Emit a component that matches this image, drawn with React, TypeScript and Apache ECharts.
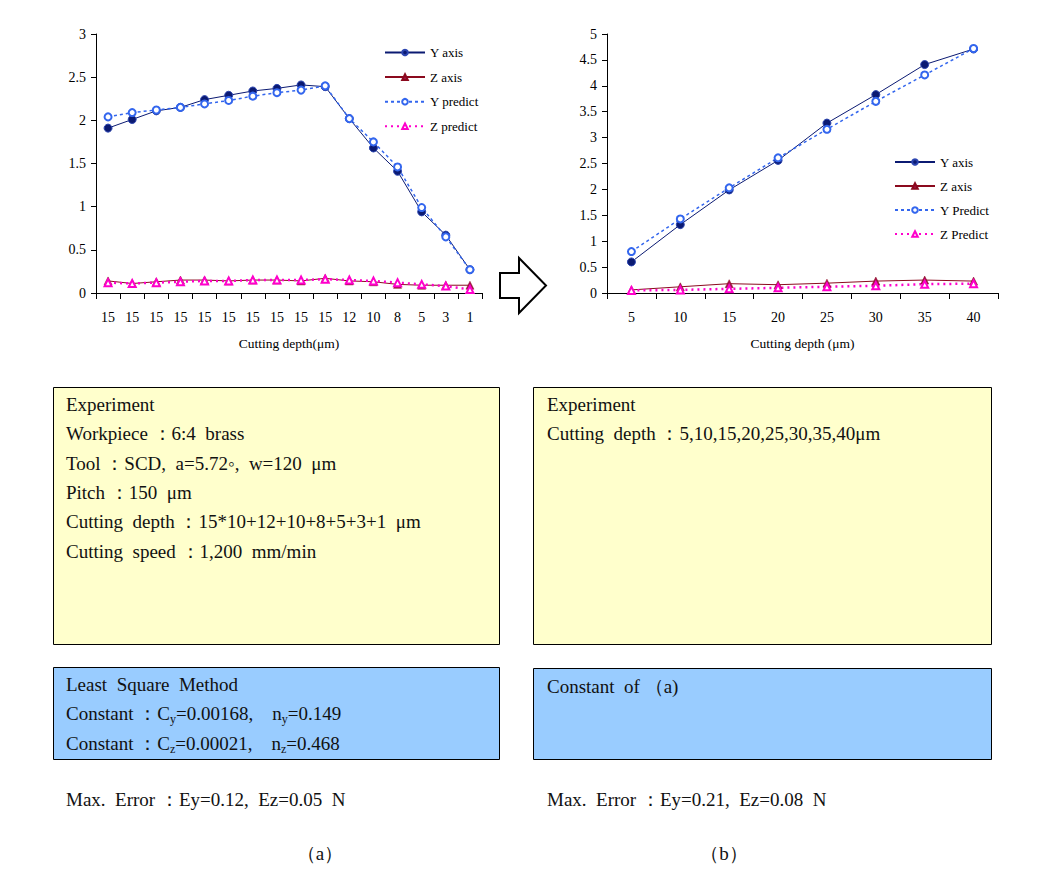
import React, { useEffect, useRef } from "react";
import * as echarts from "echarts";

// ---- data (a) ----
const leftCats = ["15", "15", "15", "15", "15", "15", "15", "15", "15", "15", "12", "10", "8", "5", "3", "1"];
const leftYAxis = [1.91, 2.01, 2.11, 2.15, 2.24, 2.29, 2.34, 2.37, 2.41, 2.39, 2.02, 1.68, 1.41, 0.94, 0.67, 0.27];
const leftYPredict = [2.04, 2.09, 2.12, 2.15, 2.19, 2.23, 2.28, 2.32, 2.35, 2.4, 2.02, 1.75, 1.46, 0.99, 0.65, 0.27];
const leftZAxis = [0.14, 0.11, 0.13, 0.15, 0.15, 0.14, 0.15, 0.15, 0.14, 0.17, 0.14, 0.13, 0.1, 0.09, 0.09, 0.09];
const leftZPredict = [0.12, 0.11, 0.12, 0.13, 0.14, 0.14, 0.15, 0.15, 0.15, 0.16, 0.15, 0.14, 0.12, 0.1, 0.08, 0.04];
const leftLegend = ["Y axis", "Z axis", "Y predict", "Z predict"];

// ---- data (b) ----
const rightCats = ["5", "10", "15", "20", "25", "30", "35", "40"];
const rightYAxis = [0.6, 1.32, 1.99, 2.56, 3.28, 3.83, 4.41, 4.71];
const rightYPredict = [0.8, 1.43, 2.03, 2.61, 3.16, 3.7, 4.21, 4.72];
const rightZAxis = [0.06, 0.12, 0.18, 0.16, 0.19, 0.23, 0.25, 0.23];
const rightZPredict = [0.05, 0.06, 0.08, 0.1, 0.12, 0.14, 0.17, 0.18];
const rightLegend = ["Y axis", "Z axis", "Y Predict", "Z Predict"];

const xAxisName = ["Cutting depth(\u03bcm)", "Cutting depth (\u03bcm)"];

const F = "'Liberation Serif', 'Times New Roman', serif";
const TF = 19;

const C_Y = "#0b1a72";
const C_Z = "#8b0a1e";
const C_YP = "#3366ee";
const C_ZP = "#ff00cc";

function makeSeries(idx: number, names: string[], ya: number[], za: number[], yp: number[], zp: number[]) {
  return [
    {
      name: names[0], type: "line", xAxisIndex: idx, yAxisIndex: idx, data: ya,
      symbol: "circle", symbolSize: 8,
      lineStyle: { color: C_Y, width: 1 },
      itemStyle: { color: C_Y, borderColor: "#2c45b0", borderWidth: 1 },
    },
    {
      name: names[1], type: "line", xAxisIndex: idx, yAxisIndex: idx, data: za,
      symbol: "triangle", symbolSize: 8,
      lineStyle: { color: C_Z, width: 1 },
      itemStyle: { color: "#a3124a", borderColor: C_Z, borderWidth: 0.5 },
    },
    {
      name: names[2], type: "line", xAxisIndex: idx, yAxisIndex: idx, data: yp,
      symbol: "emptyCircle", symbolSize: 7,
      lineStyle: { color: C_YP, width: 1.5, type: [3, 3] },
      itemStyle: { color: C_YP, borderColor: C_YP, borderWidth: 1 },
    },
    {
      name: names[3], type: "line", xAxisIndex: idx, yAxisIndex: idx, data: zp,
      symbol: "emptyTriangle", symbolSize: 7,
      lineStyle: { color: C_ZP, width: 2.5, type: [2, 4] },
      itemStyle: { color: C_ZP, borderColor: C_ZP, borderWidth: 1 },
    },
  ];
}

function txt(x: number, y: number, text: string, extra: any = {}) {
  return {
    type: "text", x, y, silent: true,
    style: { text, fontFamily: F, fontSize: TF, fill: "#111", verticalAlign: "middle", align: "left", ...extra },
  };
}

const richSub = {
  m: { fontFamily: F, fontSize: TF, fill: "#111", verticalAlign: "bottom", padding: [0, 0, 2, 0] },
  s: { fontFamily: F, fontSize: 12, fill: "#111", verticalAlign: "bottom" },
};

export default function App() {
  const ref = useRef<HTMLDivElement>(null);
  useEffect(() => {
    if (!ref.current) return;
    const chart = echarts.init(ref.current, undefined, { renderer: "svg" });
    const labelStyle = { color: "#000", fontFamily: F, fontSize: 14 };
    const option: any = {
      animation: false,
      backgroundColor: "#fff",
      textStyle: { fontFamily: F },
      grid: [
        { left: 96, top: 34, width: 386, height: 259 },
        { left: 607, top: 34, width: 391, height: 259 },
      ],
      xAxis: [0, 1].map((i) => ({
        type: "category",
        gridIndex: i,
        data: i === 0 ? leftCats : rightCats,
        boundaryGap: true,
        axisLine: { show: true, lineStyle: { color: "#000", width: 1 } },
        splitLine: { show: false },
        axisTick: { show: true, inside: false, length: 6, interval: 0, lineStyle: { color: "#000" } },
        axisLabel: { ...labelStyle, interval: 0, margin: 17 },
        name: xAxisName[i],
        nameLocation: "middle",
        nameGap: 43,
        nameTextStyle: { color: "#000", fontFamily: F, fontSize: 13.5 },
      })),
      yAxis: [0, 1].map((i) => ({
        type: "value",
        gridIndex: i,
        min: 0,
        max: i === 0 ? 3 : 5,
        interval: 0.5,
        axisLine: { show: true, lineStyle: { color: "#000", width: 1 } },
        splitLine: { show: false },
        axisTick: { show: true, inside: false, length: 5, lineStyle: { color: "#000" } },
        axisLabel: { ...labelStyle, margin: 10 },
      })),
      legend: [
        {
          data: leftLegend, orient: "vertical", left: 384, top: 46, padding: 0,
          itemWidth: 40, itemHeight: 7, itemGap: 11.6,
          textStyle: { fontFamily: F, fontSize: 13, color: "#000" }, selectedMode: false,
        },
        {
          data: rightLegend, orient: "vertical", left: 894, top: 155.5, padding: 0,
          itemWidth: 40, itemHeight: 7, itemGap: 11,
          textStyle: { fontFamily: F, fontSize: 13, color: "#000" }, selectedMode: false,
        },
      ],
      series: [
        ...makeSeries(0, leftLegend, leftYAxis, leftZAxis, leftYPredict, leftZPredict),
        ...makeSeries(1, rightLegend, rightYAxis, rightZAxis, rightYPredict, rightZPredict),
      ],
      graphic: [
        // arrow
        {
          type: "polygon", silent: true,
          shape: { points: [[500, 273], [519, 273], [519, 258], [546, 285.5], [519, 313], [519, 298], [500, 298]] },
          style: { fill: "#fff", stroke: "#000", lineWidth: 2 },
        },
        // boxes
        { type: "rect", silent: true, shape: { x: 53.5, y: 387.5, width: 446, height: 257 }, style: { fill: "#ffffcc", stroke: "#000", lineWidth: 1 } },
        { type: "rect", silent: true, shape: { x: 533.5, y: 387.5, width: 458, height: 257 }, style: { fill: "#ffffcc", stroke: "#000", lineWidth: 1 } },
        { type: "rect", silent: true, shape: { x: 53.5, y: 667.5, width: 446, height: 92 }, style: { fill: "#99ccff", stroke: "#000", lineWidth: 1 } },
        { type: "rect", silent: true, shape: { x: 533.5, y: 668.5, width: 458, height: 91 }, style: { fill: "#99ccff", stroke: "#000", lineWidth: 1 } },
        // left yellow
        txt(66, 404, "Experiment"),
        txt(66, 433, "Workpiece \uff1a6:4  brass"),
        txt(66, 463, "Tool \uff1aSCD,  a=5.72\u25e6,  w=120  \u03bcm"),
        txt(66, 492, "Pitch \uff1a150  \u03bcm"),
        txt(66, 521, "Cutting  depth \uff1a15*10+12+10+8+5+3+1  \u03bcm"),
        txt(66, 551, "Cutting  speed \uff1a1,200  mm/min"),
        // right yellow
        txt(547, 404, "Experiment"),
        txt(547, 433, "Cutting  depth \uff1a5,10,15,20,25,30,35,40\u03bcm"),
        // left blue
        txt(66, 684, "Least  Square  Method"),
        {
          type: "text", x: 66, y: 714, silent: true,
          style: {
            text: "{m|Constant \uff1aC}{s|y}{m|=0.00168,    n}{s|y}{m|=0.149}",
            rich: richSub, verticalAlign: "middle", align: "left",
          },
        },
        {
          type: "text", x: 66, y: 744, silent: true,
          style: {
            text: "{m|Constant \uff1aC}{s|z}{m|=0.00021,    n}{s|z}{m|=0.468}",
            rich: richSub, verticalAlign: "middle", align: "left",
          },
        },
        // right blue
        txt(547, 686, "Constant  of \uff08a)"),
        // errors
        txt(66, 799, "Max.  Error \uff1aEy=0.12,  Ez=0.05  N"),
        txt(547, 799, "Max.  Error \uff1aEy=0.21,  Ez=0.08  N"),
        // captions
        txt(320, 853, "\uff08a\uff09", { align: "center" }),
        txt(724, 853, "\uff08b\uff09", { align: "center" }),
      ],
    };
    chart.setOption(option);
    return () => chart.dispose();
  }, []);
  return (
    <div
      ref={ref}
      style={{ position: "absolute", left: 0, top: 0, width: 1049, height: 871, background: "#fff" }}
    />
  );
}
